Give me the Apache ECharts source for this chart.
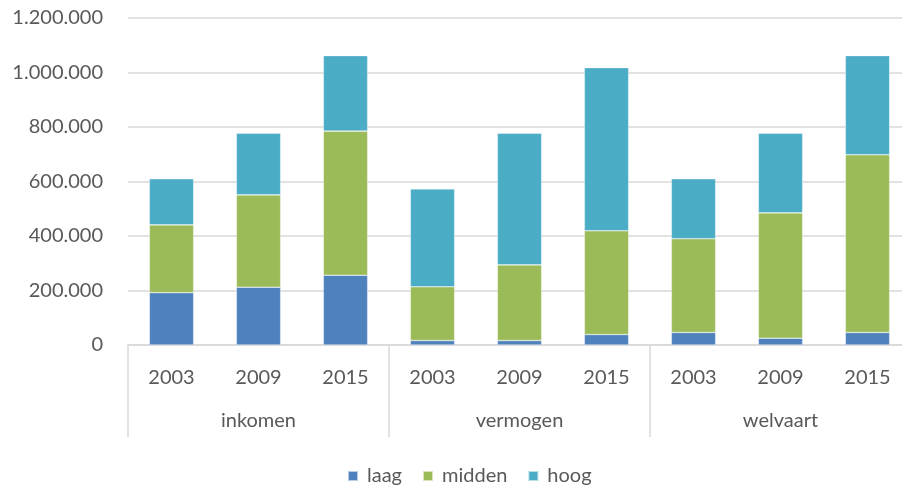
<!DOCTYPE html>
<html><head><meta charset="utf-8">
<script src="https://cdn.jsdelivr.net/npm/echarts@6/dist/echarts.min.js"></script>
<style>html,body{margin:0;padding:0;background:#fff}#c{width:902px;height:486px}</style>
</head><body><div id="c"></div>
<script>
const groups = ['inkomen', 'vermogen', 'welvaart'];
const years = ['2003', '2009', '2015', '2003', '2009', '2015', '2003', '2009', '2015'];
const laag   = [192000, 212000, 256000, 16500, 16500, 38500, 46000, 25000, 46000];
const midden = [249000, 339000, 529000, 197000, 277500, 380500, 344000, 460000, 652000];
const hoog   = [169000, 226000, 277000, 359500, 483000, 599000, 220000, 292000, 364000];
const seriesNames = ['laag', 'midden', 'hoog'];
const colors = ['#4F81BD', '#9BBB59', '#4BACC6'];

const font = 'Lato, "Liberation Sans", sans-serif';
const txt = '#595959';
const fs = 20;
const chart = echarts.init(document.getElementById('c'), null, {renderer: 'canvas'});
const mk = (name, data, i) => ({
  name, type: 'bar', stack: 'a', data, barWidth: '51%',
  itemStyle: {color: colors[i], borderColor: 'rgba(255,255,255,0.6)', borderWidth: 0.6},
  emphasis: {disabled: true}
});
chart.setOption({
  animation: false,
  textStyle: {fontFamily: font},
  grid: {left: 128, width: 783, top: 18, height: 327, containLabel: false, outerBoundsMode: 'none'},
  legend: {
    top: 461, left: 342, itemWidth: 10, itemHeight: 10, itemGap: 20,
    icon: 'rect',
    textStyle: {fontFamily: font, fontSize: fs, color: txt, padding: [0, 0, 0, 4]},
    data: seriesNames
  },
  xAxis: [
    {type: 'category', data: years, position: 'bottom',
     axisLine: {lineStyle: {color: '#d9d9d9', width: 1.5}},
     axisTick: {show: false},
     axisLabel: {fontFamily: font, fontSize: fs, color: txt, margin: 23}},
    {type: 'category', data: groups, position: 'bottom', gridIndex: 0,
     axisLine: {show: false},
     axisTick: {show: true, length: 92, lineStyle: {color: '#d9d9d9', width: 1.5}},
     axisLabel: {fontFamily: font, fontSize: fs, color: txt, margin: 66}}
  ],
  yAxis: {
    type: 'value', min: 0, max: 1200000, interval: 200000,
    axisLine: {show: false}, axisTick: {show: false},
    splitLine: {lineStyle: {color: '#d9d9d9', width: 1.5}},
    axisLabel: {fontFamily: font, fontSize: fs, color: txt, margin: 25,
      formatter: v => v.toString().replace(/\B(?=(\d{3})+(?!\d))/g, '.')}
  },
  series: [mk('laag', laag, 0), mk('midden', midden, 1), mk('hoog', hoog, 2)]
});
</script></body></html>
